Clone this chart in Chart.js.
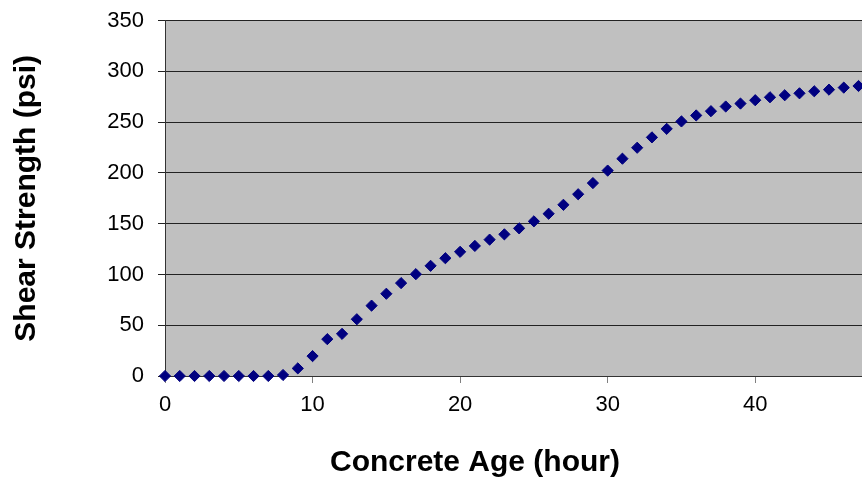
<!DOCTYPE html>
<html>
<head>
<meta charset="utf-8">
<title>Shear Strength vs Concrete Age</title>
<script src="https://cdn.jsdelivr.net/npm/chart.js@4.4.1/dist/chart.umd.min.js"></script>
<style>
  html, body { margin: 0; padding: 0; background: #fff; overflow: hidden; }
  /* the plot runs on past the right edge of the window, like the cropped original */
  #wrap { width: 950px; height: 487px; }
</style>
</head>
<body>
<div id="wrap"><canvas id="strengthChart"></canvas></div>
<script>
// Concrete age (hour) and measured shear strength (psi)
const hours = [0, 1, 2, 3, 4, 5, 6, 7, 8, 9, 10, 11, 12, 13, 14, 15, 16, 17, 18, 19,
  20, 21, 22, 23, 24, 25, 26, 27, 28, 29, 30, 31, 32, 33, 34, 35, 36, 37, 38, 39,
  40, 41, 42, 43, 44, 45, 46, 47];
const strength = [0, 0, 0, 0, 0, 0, 0, 0, 1, 7.5, 19.6, 36.3, 41.5, 55.9, 69.3, 81, 91.5, 100.3, 108.5, 116,
  122.3, 128.1, 134.3, 139.5, 145.4, 152.3, 159.8, 168.6, 179, 190, 202.3, 214, 224.8, 235, 243.4, 250.7, 256.6, 260.8, 265.4, 268.3,
  271.6, 274.5, 276.5, 278.4, 280.4, 282, 284, 285.6];
const yTicks = [0, 50, 100, 150, 200, 250, 300, 350];
const xTicks = [0, 10, 20, 30, 40, 50];

const FONT = "'Liberation Sans', Arial, sans-serif";

// gray plot area like the old Excel charts
const plotBackground = {
  id: 'plotBackground',
  beforeDraw(chart) {
    const { ctx, chartArea } = chart;
    ctx.save();
    ctx.fillStyle = '#c0c0c0';
    ctx.fillRect(chartArea.left, chartArea.top, chartArea.right - chartArea.left, chartArea.bottom - chartArea.top);
    ctx.restore();
  }
};

const points = hours.map((h, i) => ({ x: h, y: strength[i] }));

new Chart(document.getElementById('strengthChart'), {
  type: 'scatter',
  data: {
    datasets: [{
      label: 'Shear Strength',
      data: points,
      pointStyle: 'rectRot',
      pointRadius: 5.6,
      pointBackgroundColor: '#000080',
      pointBorderColor: '#000080',
      pointBorderWidth: 1,
      showLine: false,
      clip: false
    }]
  },
  options: {
    responsive: true,
    maintainAspectRatio: false,
    animation: false,
    layout: { autoPadding: false, padding: { top: 20, left: 0, right: 0, bottom: 6 } },
    plugins: {
      legend: { display: false },
      tooltip: { enabled: false },
      title: {
        display: true,
        position: 'bottom',
        text: 'Concrete Age (hour)',
        color: '#000',
        font: { family: FONT, size: 30, weight: 'bold' },
        padding: { top: 0, bottom: 0 }
      }
    },
    scales: {
      x: {
        type: 'linear',
        min: 0,
        max: 53.2,
        afterBuildTicks(scale) {
          scale.ticks = xTicks.map(v => ({ value: v }));
        },
        afterFit(scale) { scale.height = 69; },
        ticks: {
          color: '#000',
          padding: 9,
          maxRotation: 0,
          font: { family: FONT, size: 22 }
        },
        grid: {
          drawOnChartArea: false,
          drawTicks: true,
          tickLength: 7,
          color: '#808080'
        },
        border: { color: '#333', width: 1 }
      },
      y: {
        min: 0,
        max: 350,
        afterBuildTicks(scale) {
          scale.ticks = yTicks.map(v => ({ value: v }));
        },
        afterFit(scale) { scale.width = 165; },
        ticks: {
          color: '#000',
          padding: 14,
          // small line height so the top label does not push the plot down
          font: { family: FONT, size: 22, lineHeight: 0.6 }
        },
        grid: {
          color: '#222',
          lineWidth: 1,
          tickLength: 7
        },
        border: { color: '#333', width: 1 },
        title: {
          display: true,
          text: 'Shear Strength (psi)',
          color: '#000',
          font: { family: FONT, size: 30, weight: 'bold' },
          padding: { top: 9, bottom: 0 }
        }
      }
    }
  },
  plugins: [plotBackground]
});
</script>
</body>
</html>
